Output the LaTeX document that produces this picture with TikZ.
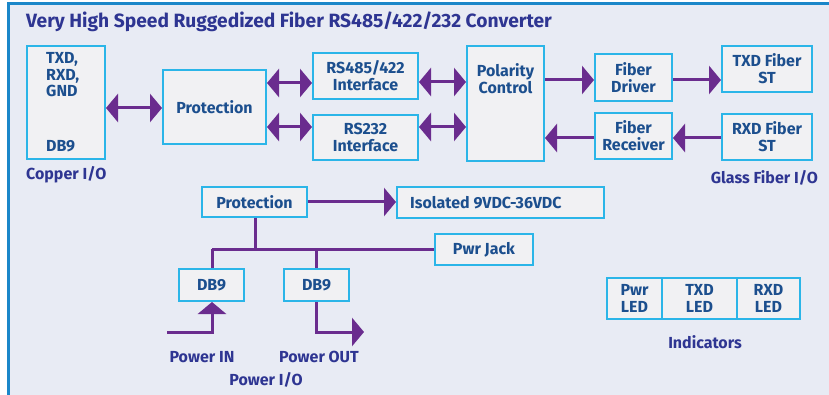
\documentclass[tikz,border=0pt]{standalone}
\usepackage{fontspec}
\setmainfont{Fira Sans}
\usetikzlibrary{arrows.meta,shadows,calc}
\definecolor{bgc}{HTML}{E8EBF4}
\definecolor{framec}{HTML}{1B87C9}
\definecolor{boxline}{HTML}{2BB5E8}
\definecolor{boxfill}{HTML}{F1F1F3}
\definecolor{boxtext}{HTML}{1C4F8E}
\definecolor{labtext}{HTML}{2E3592}
\definecolor{wirec}{HTML}{6A2C8E}
\tikzset{
  blk/.style={draw=boxline, line width=2pt, fill=boxfill, inner sep=0pt,
    drop shadow={shadow xshift=1.2pt, shadow yshift=-1.2pt, opacity=0.25, fill=black}},
  btxt/.style={text=boxtext, font=\bfseries\fontsize{16}{16.8}\selectfont, align=center, inner sep=0pt},
  ltxt/.style={text=labtext, font=\bfseries\fontsize{16}{17}\selectfont, inner sep=0pt},
  wire/.style={draw=wirec, line width=3pt},
  one/.style={wire, -{Triangle[length=12pt 0 0,width=28pt 0 0]}},
  two/.style={wire, {Triangle[length=12pt 0 0,width=28pt 0 0]}-{Triangle[length=12pt 0 0,width=28pt 0 0]}},
}
\newcommand{\blkat}[6]{% name, x1,y1,x2,y2, text
  \node[blk, minimum width={(#4-#2)*1pt}, minimum height={(#5-#3)*1pt}, btxt] (#1) at ({(#2+#4)/2},{(#3+#5)/2}) {#6};}
\begin{document}
\begin{tikzpicture}[x=1pt,y=-1pt]
\useasboundingbox (0,0) rectangle (829,395);
\fill[white] (0,0) rectangle (829,395);
\fill[bgc] (8,4) rectangle (832,398);
\draw[framec, line width=3pt] (8,398) -- (8,4) -- (832,4);

\node[ltxt, anchor=west, font=\bfseries\fontsize{19.2}{22}\selectfont] (title) at (26,22) {Very High Speed Ruggedized Fiber RS485/422/232 Converter};

% top row
\blkat{cu}{27}{46}{105}{159}{}
\node[btxt, anchor=north west, align=left] (cutxt) at (46,52) {TXD,\\RXD,\\GND};
\node[btxt, anchor=west] (cudb) at (46,146) {DB9};
\blkat{prot1}{163}{70}{266}{144}{Protection}
\blkat{rs485}{313}{53}{418}{99}{RS485/422\\Interface}
\blkat{rs232}{313}{115}{418}{160}{RS232\\Interface}
\blkat{pol}{467}{46}{544}{161}{}
\node[btxt] (poltxt) at (505.5,78.5) {Polarity\\Control};
\blkat{fdrv}{595}{54}{672}{101}{Fiber\\Driver}
\blkat{frcv}{595}{113}{672}{159}{Fiber\\Receiver}
\blkat{txst}{722}{46}{812}{92}{TXD Fiber\\ST}
\blkat{rxst}{722}{114}{812}{160}{RXD Fiber\\ST}

\node[ltxt, anchor=west] (copper) at (26,175) {Copper I/O};
\node[ltxt, anchor=east] (glass) at (818,178) {Glass Fiber I/O};

\draw[two] (cu.east |- 0,108) -- (prot1.west |- 0,108);
\draw[two] (prot1.east |- 0,83) -- (rs485.west |- 0,83);
\draw[two] (prot1.east |- 0,127) -- (rs232.west |- 0,127);
\draw[two] (rs485.east |- 0,82) -- (pol.west |- 0,82);
\draw[two] (rs232.east |- 0,127) -- (pol.west |- 0,127);
\draw[one] (pol.east |- 0,80) -- (fdrv.west |- 0,80);
\draw[one] (fdrv.east |- 0,80) -- (txst.west |- 0,80);
\draw[one] (rxst.west |- 0,138) -- (frcv.east |- 0,138);
\draw[one] (frcv.west |- 0,138) -- (pol.east |- 0,138);

% power section
\blkat{prot2}{202}{187}{307}{217}{Protection}
\blkat{iso}{397}{187}{604}{218}{}
\node[btxt, anchor=west] (isotxt) at (410,202.5) {Isolated 9VDC-36VDC};
\blkat{jack}{435}{234}{533}{265}{Pwr Jack}
\blkat{dba}{179}{269}{244}{301}{DB9}
\blkat{dbb}{284}{269}{349}{301}{DB9}

\coordinate (j0) at (255,249);
\coordinate (ja) at (212,249);
\coordinate (jb) at (316,249);
\coordinate (pin) at (167,332);
\coordinate (pout) at (364,332);

\draw[one] (prot2.east |- 0,202) -- (iso.west |- 0,202);
\draw[wire] (prot2.south -| j0) -- (j0);
\draw[wire] (ja) -- (jack.west |- ja);
\draw[wire] (ja) -- (dba.north -| ja);
\draw[wire] (jb) -- (dbb.north -| jb);
\draw[one] (pin) -- (pin -| ja) -- (dba.south -| ja);
\draw[one] (dbb.south -| jb) -- (pout -| jb) -- (pout);

\node[ltxt] (pinl) at (202,357) {Power IN};
\node[ltxt] (poutl) at (319,357) {Power OUT};
\node[ltxt] (piol) at (266,380) {Power I/O};

% indicators
\blkat{led1}{607}{278}{662}{319}{\fontsize{16}{20}\selectfont Pwr\\LED}
\blkat{led2}{662}{278}{737}{319}{\fontsize{16}{20}\selectfont TXD\\LED}
\blkat{led3}{737}{278}{800}{319}{\fontsize{16}{20}\selectfont RXD\\LED}
\node[ltxt] (ind) at (705,342) {Indicators};
\end{tikzpicture}
\end{document}
